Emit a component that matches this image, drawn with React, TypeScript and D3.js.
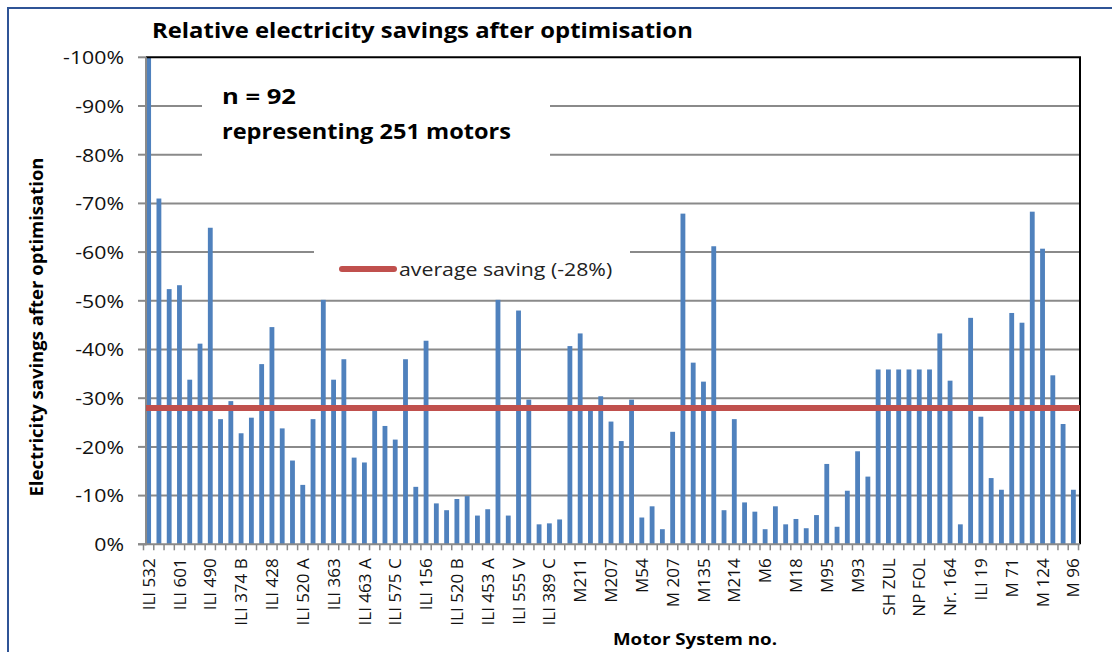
import React from "react";
import * as d3 from "d3";

// ---- Data ----
const tickLabels: string[] = [
  "ILI 532", "ILI 601", "ILI 490", "ILI 374 B", "ILI 428", "ILI 520 A", "ILI 363",
  "ILI 463 A", "ILI 575 C", "ILI 156", "ILI 520 B", "ILI 453 A", "ILI 555 V", "ILI 389 C",
  "M211", "M207", "M54", "M 207", "M135", "M214", "M6", "M18", "M95", "M93",
  "SH ZUL", "NP FOL", "Nr. 164", "ILI 19", "M 71", "M 124", "M 96",
];

// savings (percent, shown on the negative axis)
const savings: number[] = [
  100, 71, 52.4, 53.2, 33.8, 41.2, 65, 25.7, 29.4, 22.8,
  26, 37, 44.6, 23.8, 17.2, 12.2, 25.7, 50.2, 33.8, 38,
  17.8, 16.8, 27.8, 24.3, 21.5, 38, 11.8, 41.8, 8.4, 7.0,
  9.3, 9.9, 5.9, 7.2, 50.2, 5.9, 48, 29.7, 4.1, 4.3,
  5.1, 40.7, 43.3, 27.8, 30.4, 25.2, 21.2, 29.7, 5.5, 7.8,
  3.1, 23.1, 67.9, 37.3, 33.4, 61.2, 7.0, 25.7, 8.6, 6.7,
  3.1, 7.8, 4.1, 5.2, 3.3, 6.0, 16.5, 3.6, 11.0, 19.1,
  13.9, 35.9, 35.9, 35.9, 35.9, 35.9, 35.9, 43.3, 33.6, 4.1,
  46.5, 26.2, 13.6, 11.2, 47.5, 45.5, 68.3, 60.7, 34.7, 24.7,
  11.2,
];

const averageSaving = 28;
const yTicks: number[] = [0, 10, 20, 30, 40, 50, 60, 70, 80, 90, 100];

const FONT = "'Open Sans', 'Liberation Sans', sans-serif";
const SX = 1.12;

export default function App() {
  const W = 1112;
  const H = 652;
  const plotL = 146;
  const plotR = 1080;
  const plotT = 57.3;
  const plotB = 544.3;

  const idx = savings.map((_, i) => i);
  const x = d3
    .scaleBand<number>()
    .domain(idx)
    .range([143.5, 1078.5])
    .paddingInner(0.53)
    .paddingOuter(0.265);
  const y = d3.scaleLinear().domain([0, 100]).range([plotB, plotT]);
  const step = x.step();
  const bw = x.bandwidth();

  const gridColor = "#8a8a8a";

  return (
    <svg
      width={W}
      height={H}
      style={{ position: "absolute", left: 0, top: 0, background: "#fff" }}
      fontFamily={FONT}
    >
      <rect x={0} y={0} width={W} height={H} fill="#fff" />
      {/* outer chart border (cropped at right and bottom) */}
      <rect x={8} y={8} width={W + 20} height={H + 20} fill="none" stroke="#2f5496" strokeWidth={2} />

      {/* title */}
      <text transform={`translate(152,38) scale(${SX},1)`} fontSize={21.3} fontWeight="bold" fill="#000">
        Relative electricity savings after optimisation
      </text>

      {/* gridlines */}
      {yTicks
        .filter((t) => t > 0 && t < 100)
        .map((t) => (
          <line key={t} x1={plotL} x2={plotR} y1={y(t)} y2={y(t)} stroke={gridColor} strokeWidth={2} />
        ))}

      {/* white text boxes that cover gridlines */}
      <rect x={202} y={75} width={348} height={90} fill="#fff" />
      <rect x={314} y={238} width={316} height={50} fill="#fff" />

      {/* bars */}
      {savings.map((v, i) => (
        <rect key={i} x={x(i)} y={y(v)} width={bw} height={y(0) - y(v)} fill="#4f81bd" />
      ))}

      {/* plot border: top and right black */}
      <line x1={plotL} x2={plotR + 1} y1={plotT} y2={plotT} stroke="#000" strokeWidth={2} />
      <line x1={plotR} x2={plotR} y1={plotT} y2={plotB} stroke="#000" strokeWidth={2} />

      {/* y axis */}
      <line x1={plotL} x2={plotL} y1={plotT} y2={plotB + 1} stroke={gridColor} strokeWidth={2} />
      {yTicks.map((t) => (
        <g key={t}>
          <line x1={138} x2={plotL} y1={y(t)} y2={y(t)} stroke={gridColor} strokeWidth={2} />
          <text
            transform={`translate(124,${y(t)}) scale(${SX},1)`}
            dy="0.36em"
            textAnchor="end"
            fontSize={19}
            fill="#111"
          >
            {t === 0 ? "0%" : `-${t}%`}
          </text>
        </g>
      ))}

      {/* x axis */}
      <line x1={plotL - 8} x2={plotR} y1={plotB} y2={plotB} stroke={gridColor} strokeWidth={2} />
      {d3.range(savings.length + 1).map((k) => {
        const xx = 143.5 + k * step;
        return <line key={k} x1={xx} x2={xx} y1={plotB} y2={plotB + 6} stroke={gridColor} strokeWidth={1.5} />;
      })}
      {tickLabels.map((lab, j) => {
        const i = j * 3;
        const cx = (x(i) ?? 0) + bw / 2;
        return (
          <text
            key={lab + j}
            transform={`translate(${cx},${plotB + 14}) rotate(-90)`}
            textAnchor="end"
            dy="0.36em"
            fontSize={17}
            fill="#111"
          >
            {lab}
          </text>
        );
      })}

      {/* average line */}
      <line
        x1={plotL}
        x2={plotR}
        y1={y(averageSaving)}
        y2={y(averageSaving)}
        stroke="#c0504d"
        strokeWidth={6}
      />

      {/* legend */}
      <line x1={342} x2={394} y1={269} y2={269} stroke="#c0504d" strokeWidth={6} strokeLinecap="round" />
      <text transform={`translate(399,269) scale(${SX},1)`} dy="0.36em" fontSize={19} fill="#222">
        average saving (-28%)
      </text>

      {/* annotations */}
      <text x={222} y={104} fontSize={21} fontWeight="bold" fill="#000" textLength={74} lengthAdjust="spacingAndGlyphs">
        n = 92
      </text>
      <text x={222} y={139} fontSize={21} fontWeight="bold" fill="#000" textLength={289} lengthAdjust="spacingAndGlyphs">
        representing 251 motors
      </text>

      {/* axis titles */}
      <text
        transform={`translate(43,327) rotate(-90)`}
        textAnchor="middle"
        fontSize={18.5}
        fontWeight="bold"
        fill="#000"
      >
        Electricity savings after  optimisation
      </text>
      <text
        transform={`translate(695,645) scale(${SX},1)`}
        textAnchor="middle"
        fontSize={16.7}
        fontWeight="bold"
        fill="#000"
      >
        Motor System no.
      </text>
    </svg>
  );
}
